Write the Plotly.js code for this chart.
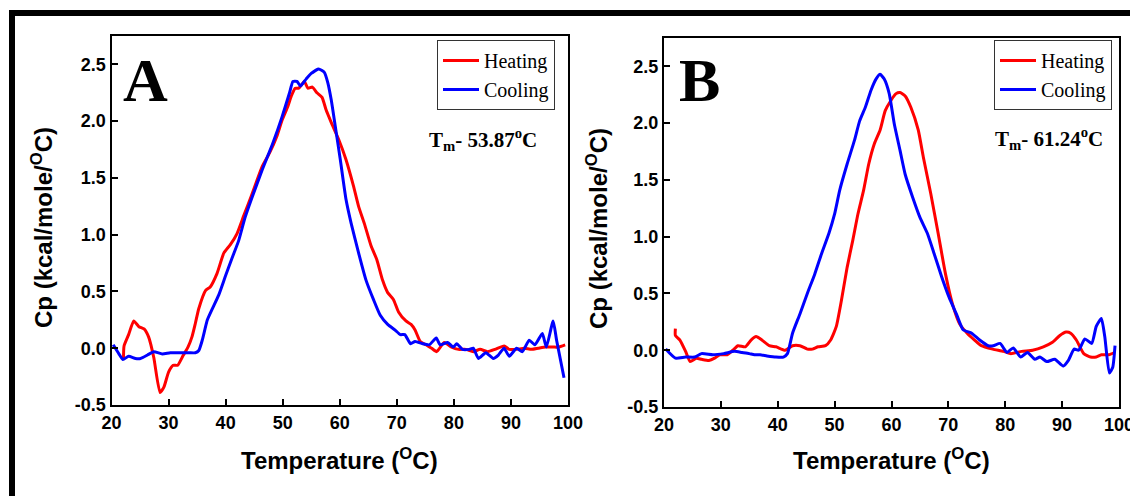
<!DOCTYPE html>
<html>
<head>
<meta charset="utf-8">
<script src="https://cdn.plot.ly/plotly-3.0.1.min.js"></script>
<style>html,body{margin:0;padding:0;background:#fff;}#chart{width:1130px;height:496px;}</style>
</head>
<body>
<div id="chart"></div>
<script>
// ---- Panel A data ----
const heatA_T  = [22.1,22.2,23.0,23.9,24.8,25.7,26.5,27.4,28.5,29.2,30.0,30.8,31.6,32.6,33.4,34.1,34.7,35.3,36.5,37.3,38.5,39.7,40.8,42.0,43.2,44.5,45.5,46.4,47.7,49.0,49.9,50.9,51.5,52.2,52.8,53.8,54.4,55.2,56.0,56.9,57.6,58.5,59.8,61.1,62.4,63.3,64.3,65.5,66.5,67.5,68.4,69.4,70.3,71.6,72.5,73.2,74.1,75.1,76.1,77.0,78.3,79.6,80.8,82.1,83.4,84.6,85.9,87.2,88.8,89.7,91.0,92.3,93.6,94.8,96.1,97.4,98.3,99.5];
const heatA_Cp = [-0.10,0.02,0.12,0.24,0.19,0.17,0.10,-0.08,-0.39,-0.34,-0.21,-0.15,-0.15,-0.06,0.01,0.10,0.22,0.35,0.51,0.54,0.66,0.84,0.91,1.01,1.17,1.34,1.48,1.60,1.72,1.87,2.01,2.13,2.22,2.29,2.29,2.35,2.29,2.30,2.25,2.21,2.10,1.99,1.84,1.66,1.43,1.25,1.10,0.90,0.78,0.60,0.49,0.43,0.32,0.24,0.21,0.16,0.06,0.03,0.00,-0.03,0.05,0.01,-0.01,-0.01,-0.03,-0.01,-0.03,-0.01,0.02,-0.01,-0.01,0.00,-0.01,0.00,0.01,0.01,0.01,0.03];
const coolA_T  = [20.3,21.3,22.0,23.0,24.2,25.1,26.3,27.4,28.9,30.3,32.1,33.6,34.7,35.3,35.9,36.8,37.6,38.8,40.0,41.1,42.3,43.4,44.5,46.4,48.3,49.9,51.2,51.8,52.5,53.1,54.1,55.0,56.3,57.3,57.9,58.5,59.2,60.1,61.1,62.0,63.3,64.6,65.9,67.1,68.4,69.7,70.6,71.4,72.4,73.2,74.5,75.7,76.9,77.6,78.9,79.9,80.5,81.5,82.7,83.4,84.3,85.6,86.9,87.8,88.8,89.7,91.0,92.0,93.2,94.2,95.5,96.2,97.4,98.0,99.3];
const coolA_Cp = [0.03,-0.05,-0.10,-0.07,-0.09,-0.09,-0.06,-0.03,-0.05,-0.04,-0.04,-0.04,-0.04,-0.02,0.07,0.25,0.34,0.47,0.64,0.79,0.95,1.15,1.31,1.57,1.81,2.04,2.25,2.35,2.35,2.31,2.37,2.42,2.46,2.43,2.34,2.19,1.96,1.66,1.31,1.10,0.84,0.60,0.43,0.29,0.21,0.16,0.12,0.12,0.04,0.06,0.04,0.03,0.09,0.03,0.05,0.01,0.04,-0.01,-0.01,0.00,-0.09,-0.04,-0.09,-0.06,0.00,-0.07,0.00,-0.03,0.07,0.03,0.13,0.01,0.24,0.07,-0.26];

// ---- Panel B data ----
const heatB_T  = [22.0,22.0,22.8,23.8,24.6,25.7,26.6,27.9,28.9,29.8,31.1,32.1,33.0,34.3,35.3,36.2,37.2,38.5,39.7,41.3,42.6,43.9,45.2,46.1,47.1,48.4,49.3,50.3,51.2,52.2,53.2,54.1,55.1,56.0,57.0,58.0,58.9,59.9,60.8,61.5,62.4,63.4,64.7,65.6,66.9,68.2,69.5,70.7,72.0,73.3,74.6,75.8,77.8,79.7,81.0,82.9,84.8,86.7,88.3,89.6,90.7,91.5,92.5,93.8,95.0,96.0,96.9,98.2,99.2];
const heatB_Cp = [0.19,0.13,0.09,-0.01,-0.10,-0.07,-0.08,-0.09,-0.07,-0.04,-0.04,0.00,0.04,0.03,0.09,0.12,0.09,0.04,0.03,0.00,0.04,0.04,0.01,0.01,0.03,0.04,0.09,0.21,0.44,0.73,0.97,1.20,1.41,1.64,1.82,1.94,2.11,2.20,2.26,2.27,2.24,2.14,1.94,1.70,1.38,1.03,0.67,0.41,0.23,0.15,0.09,0.04,0.01,-0.01,-0.03,-0.01,0.00,0.03,0.07,0.13,0.16,0.15,0.09,-0.03,-0.06,-0.06,-0.04,-0.04,-0.02];
const coolB_T  = [20.3,22.0,23.8,25.4,26.6,28.6,30.5,32.4,33.7,35.0,35.9,36.9,38.1,39.7,41.0,41.7,42.6,43.9,45.2,46.5,47.7,49.0,50.0,50.9,52.2,53.5,54.4,55.4,56.4,57.3,58.0,58.7,59.6,60.5,61.5,62.4,63.7,65.0,66.3,67.5,68.8,70.1,71.4,72.6,74.1,75.5,77.0,77.9,79.1,80.3,81.4,82.7,83.9,85.2,86.1,87.3,88.7,90.2,91.1,92.1,92.9,94.0,95.2,96.0,96.9,97.5,98.3,98.9,99.3];
const coolB_Cp = [0.01,-0.07,-0.06,-0.06,-0.03,-0.04,-0.03,-0.01,-0.02,-0.03,-0.04,-0.04,-0.05,-0.06,-0.06,-0.03,0.15,0.32,0.50,0.67,0.85,1.03,1.20,1.41,1.64,1.85,2.02,2.14,2.29,2.39,2.43,2.39,2.26,1.99,1.76,1.55,1.35,1.17,1.03,0.85,0.65,0.47,0.32,0.18,0.15,0.09,0.04,0.04,0.06,-0.02,0.02,-0.06,-0.02,-0.08,-0.06,-0.10,-0.08,-0.14,-0.09,0.01,0.00,0.10,0.06,0.21,0.28,0.12,-0.20,-0.15,0.04];

// ---- axis ticks / labels ----
const xTicks = [20,30,40,50,60,70,80,90,100];
const yTickVals = [-0.5,0,0.5,1,1.5,2,2.5];
const yTickText = ["-0.5","0.0","0.5","1.0","1.5","2.0","2.5"];
const seriesNames = ["Heating","Cooling"];
const tmLabels = ["T<sub>m</sub>- 53.87<sup>o</sup>C","T<sub>m</sub>- 61.24<sup>o</sup>C"];
const panelLetters = ["A","B"];
const xTitle = "Temperature (<sup>O</sup>C)";
const yTitle = "Cp (kcal/mole/<sup>O</sup>C)";

const W = 1130, H = 496;
const px = v => v / W;
const py = v => 1 - v / H;

const RED = "#ff0000", BLUE = "#0000ff";
const LW = 3;

const traces = [
  {x: heatA_T, y: heatA_Cp, name: seriesNames[0], xaxis: "x", yaxis: "y", legend: "legend",
   mode: "lines", line: {color: RED, width: LW, shape: "spline", smoothing: 0.5}},
  {x: coolA_T, y: coolA_Cp, name: seriesNames[1], xaxis: "x", yaxis: "y", legend: "legend",
   mode: "lines", line: {color: BLUE, width: LW, shape: "spline", smoothing: 0.5}},
  {x: heatB_T, y: heatB_Cp, name: seriesNames[0], xaxis: "x2", yaxis: "y2", legend: "legend2",
   mode: "lines", line: {color: RED, width: LW, shape: "spline", smoothing: 0.5}},
  {x: coolB_T, y: coolB_Cp, name: seriesNames[1], xaxis: "x2", yaxis: "y2", legend: "legend2",
   mode: "lines", line: {color: BLUE, width: LW, shape: "spline", smoothing: 0.5}}
];

const tickFont = {family: "Liberation Sans, Arial, sans-serif", size: 18, color: "#000", weight: "bold"};
function xAxis(domain, anchor) {
  return {domain: domain, anchor: anchor, range: [20, 100], tickmode: "array", tickvals: xTicks,
    ticks: "inside", ticklen: 6, tickwidth: 2, tickcolor: "#000",
    showline: true, linecolor: "#000", linewidth: 2, mirror: true, ticklabeloverflow: "allow",
    showgrid: false, zeroline: false, automargin: false, tickfont: tickFont, fixedrange: true};
}
function yAxis(domain, anchor) {
  return {domain: domain, anchor: anchor, range: [-0.5, 2.75], tickmode: "array",
    tickvals: yTickVals, ticktext: yTickText,
    ticks: "inside", ticklen: 6, tickwidth: 2, tickcolor: "#000",
    showline: true, linecolor: "#000", linewidth: 2, mirror: true, ticklabeloverflow: "allow",
    showgrid: false, zeroline: false, automargin: false, tickfont: tickFont, fixedrange: true};
}

const legendStyle = {
  bgcolor: "#fff", bordercolor: "#333", borderwidth: 1,
  font: {family: "Liberation Serif, Times New Roman, serif", size: 20, color: "#000"},
  xanchor: "right", yanchor: "top", tracegroupgap: 0, itemwidth: 36,
  traceorder: "normal"
};

const titleFont = {family: "Liberation Sans, Arial, sans-serif", size: 24, color: "#000", weight: "bold"};
const tmFont = {family: "Liberation Serif, Times New Roman, serif", size: 21, color: "#000", weight: "bold"};
const letterFont = {family: "Liberation Serif, Times New Roman, serif", size: 62, color: "#000", weight: "bold"};

const annotations = [
  {xref: "paper", yref: "paper", x: px(339), y: py(459), text: xTitle, showarrow: false, font: titleFont, xanchor: "center", yanchor: "middle"},
  {xref: "paper", yref: "paper", x: px(891), y: py(459), text: xTitle, showarrow: false, font: titleFont, xanchor: "center", yanchor: "middle"},
  {xref: "paper", yref: "paper", x: px(42), y: py(228), text: yTitle, textangle: -90, showarrow: false, font: titleFont, xanchor: "center", yanchor: "middle"},
  {xref: "paper", yref: "paper", x: px(597), y: py(229), text: yTitle, textangle: -90, showarrow: false, font: titleFont, xanchor: "center", yanchor: "middle"},
  {xref: "paper", yref: "paper", x: px(483), y: py(139), text: tmLabels[0], showarrow: false, font: tmFont, xanchor: "center", yanchor: "middle"},
  {xref: "paper", yref: "paper", x: px(1049), y: py(138), text: tmLabels[1], showarrow: false, font: tmFont, xanchor: "center", yanchor: "middle"},
  {xref: "paper", yref: "paper", x: px(145), y: py(80), text: panelLetters[0], showarrow: false, font: letterFont, xanchor: "center", yanchor: "middle"},
  {xref: "paper", yref: "paper", x: px(699), y: py(80), text: panelLetters[1], showarrow: false, font: letterFont, xanchor: "center", yanchor: "middle"}
];

const layout = {
  width: W, height: H,
  margin: {l: 0, r: 0, t: 0, b: 0, pad: 0},
  paper_bgcolor: "#fff", plot_bgcolor: "#fff",
  showlegend: true,
  xaxis: xAxis([px(111.5), px(568)], "y"),
  yaxis: yAxis([py(405), py(36)], "x"),
  xaxis2: xAxis([px(664), px(1119)], "y2"),
  yaxis2: yAxis([py(407), py(38)], "x2"),
  legend: Object.assign({}, legendStyle, {x: px(555), y: py(40)}),
  legend2: Object.assign({}, legendStyle, {x: px(1112), y: py(40)}),
  annotations: annotations,
  shapes: [
    {type: "rect", xref: "paper", yref: "paper", x0: px(12), x1: 1.2, y0: -0.2, y1: py(13),
     line: {color: "#000", width: 6}, fillcolor: "rgba(0,0,0,0)", layer: "above"}
  ]
};

Plotly.newPlot("chart", traces, layout, {displayModeBar: false, staticPlot: true});
</script>
</body>
</html>
